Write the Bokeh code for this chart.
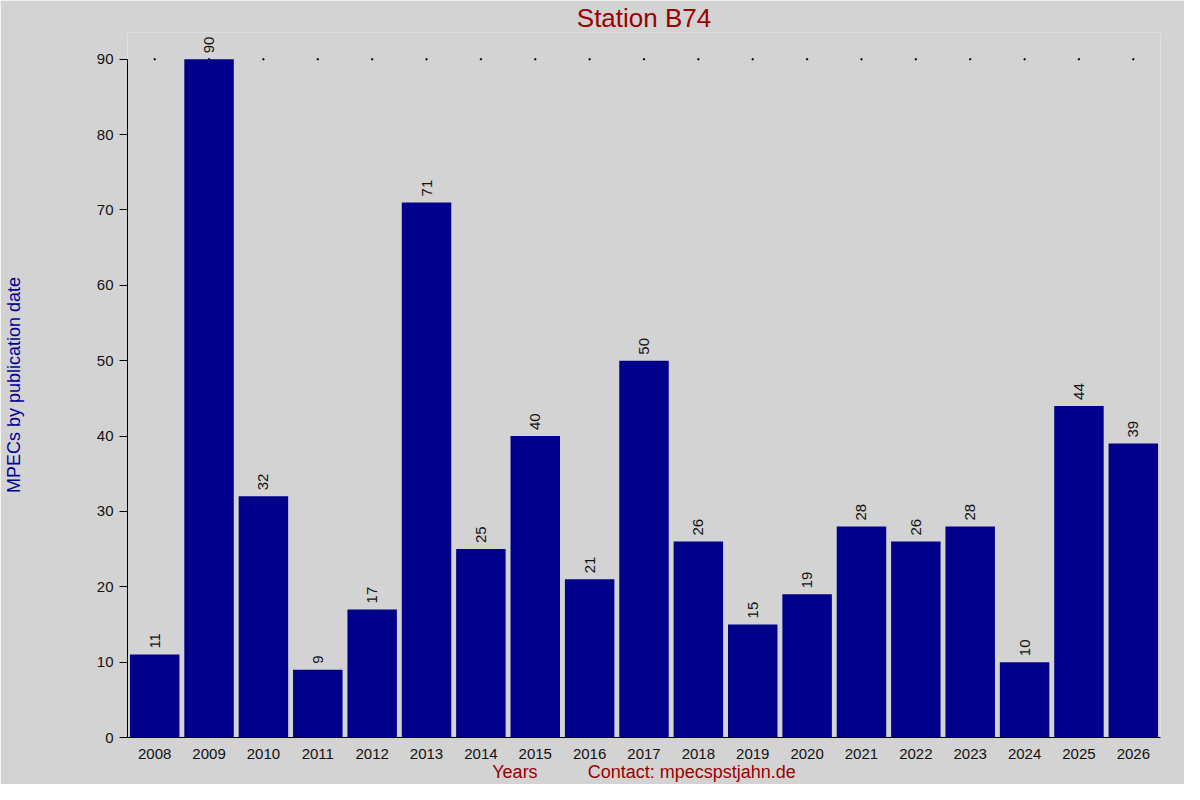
import math
from bokeh.plotting import figure, ColumnDataSource
from bokeh.models import FixedTicker, LabelSet, Range1d
from bokeh.core.properties import value
from bokeh.embed import file_html
from bokeh.resources import INLINE

years = list(range(2008, 2027))
counts = [11, 90, 32, 9, 17, 71, 25, 40, 21, 50, 26, 15, 19, 28, 26, 28, 10, 44, 39]
y_ticks = [0, 10, 20, 30, 40, 50, 60, 70, 80, 90]

bg = "#d3d3d3"
font = "Liberation Sans"
y_max = max(y_ticks)

source = ColumnDataSource(dict(year=years, count=counts,
                               label=[str(c) for c in counts],
                               top=[y_max] * len(years)))

# a little head room above 90 so the "90" label is not clipped
p = figure(width=1184, height=784, output_backend="svg", toolbar_location=None,
           x_range=Range1d(years[0] - 0.5, years[-1] + 0.5),
           y_range=Range1d(0, y_max + 3.55),
           min_border_left=124, min_border_right=24,
           min_border_top=28, min_border_bottom=44)

p.background_fill_color = bg
p.border_fill_color = bg
p.outline_line_color = None
p.grid.visible = False

# title
p.title.text = "Station B74"
p.title.align = "center"
p.title.text_color = "#990000"
p.title.text_font = font
p.title.text_font_size = "26px"
p.title.text_font_style = "normal"
p.title.standoff = 0

# bars
p.vbar(x="year", top="count", width=0.91, bottom=0, source=source,
       fill_color="#00008b", line_color=None)

# little dots along the top
p.scatter(x="year", y="top", size=1.5, color="black", source=source, level="underlay")

labels = LabelSet(x="year", y="count", text="label", source=source,
                  angle=math.pi / 2, text_align="left", text_baseline="middle",
                  y_offset=6, text_font=value(font), text_font_size=value("15px"),
                  text_color="#111111")
p.add_layout(labels)

# axes
p.xaxis.ticker = FixedTicker(ticks=years)
p.xaxis.major_tick_line_color = None
p.xaxis.minor_tick_line_color = None
p.xaxis.major_label_text_font = font
p.xaxis.major_label_text_font_size = "15px"
p.xaxis.major_label_text_color = "#111111"
p.xaxis.axis_line_color = "black"
p.xaxis.major_label_standoff = 5
p.xaxis.axis_label = "Years" + "\u00a0" * 10 + "Contact: mpecspstjahn.de"
p.xaxis.axis_label_text_font = font
p.xaxis.axis_label_text_font_size = "18px"
p.xaxis.axis_label_text_font_style = "normal"
p.xaxis.axis_label_text_color = "#990000"
p.xaxis.axis_label_standoff = 0

p.yaxis.ticker = FixedTicker(ticks=y_ticks)
p.yaxis.bounds = (0, y_max)
p.yaxis.major_tick_out = 8
p.yaxis.major_tick_in = 0
p.yaxis.minor_tick_line_color = None
p.yaxis.major_label_text_font = font
p.yaxis.major_label_text_font_size = "15px"
p.yaxis.major_label_text_color = "#111111"
p.yaxis.axis_line_color = "black"
p.yaxis.major_label_standoff = 6
p.yaxis.axis_label = "MPECs by publication date"
p.yaxis.axis_label_text_font = font
p.yaxis.axis_label_text_font_size = "18px"
p.yaxis.axis_label_text_font_style = "normal"
p.yaxis.axis_label_text_color = "#000099"
p.yaxis.axis_label_standoff = 70

open("out.html", "w").write(file_html(p, INLINE))
